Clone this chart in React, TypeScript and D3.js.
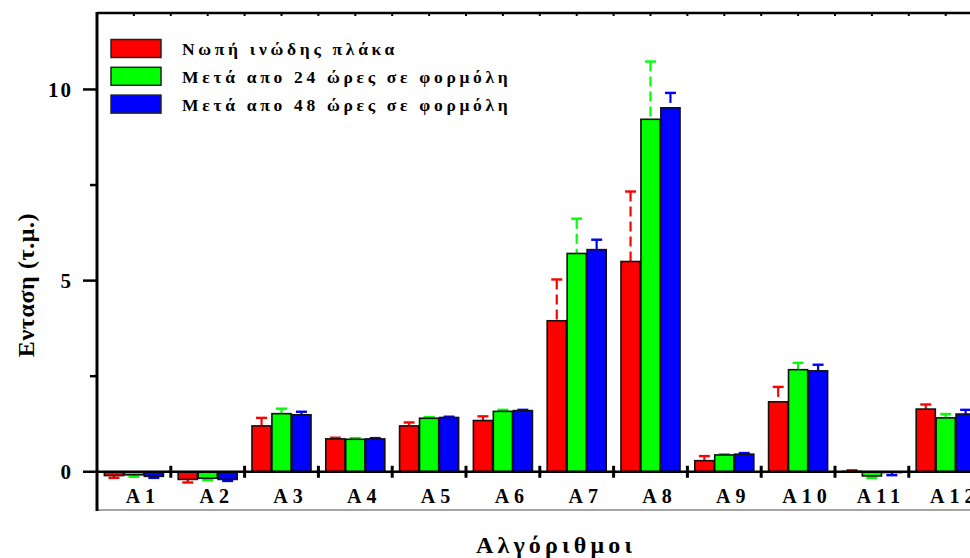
import React from "react";
import * as d3 from "d3";

const categories = ["A1", "A2", "A3", "A4", "A5", "A6", "A7", "A8", "A9", "A10", "A11", "A12"];
const seriesNames = [
  "Νωπή ινώδης πλάκα",
  "Μετά απο 24 ώρες σε φορμόλη",
  "Μετά απο 48 ώρες σε φορμόλη",
];
const seriesColors = ["#ff0000", "#00ff00", "#0000ff"];

// values
const fresh = [-0.1, -0.2, 1.2, 0.86, 1.2, 1.34, 3.95, 5.5, 0.29, 1.83, 0.01, 1.64];
const freshErr = [0.06, 0.08, 0.21, 0.03, 0.09, 0.11, 1.08, 1.83, 0.12, 0.39, 0.03, 0.12];
const after24 = [-0.08, -0.17, 1.52, 0.85, 1.4, 1.58, 5.71, 9.22, 0.44, 2.67, -0.11, 1.41];
const after24Err = [0.05, 0.05, 0.13, 0.03, 0.03, 0.04, 0.91, 1.51, 0.02, 0.18, 0.05, 0.1];
const after48 = [-0.12, -0.2, 1.49, 0.86, 1.42, 1.6, 5.81, 9.52, 0.46, 2.64, -0.02, 1.51];
const after48Err = [0.04, 0.04, 0.08, 0.02, 0.02, 0.02, 0.26, 0.39, 0.03, 0.16, 0.07, 0.11];

const yMajorTicks = [0, 5, 10];
const yMinorTicks = [2.5, 7.5];

const values = [fresh, after24, after48];
const errors = [freshErr, after24Err, after48Err];

const W = 970;
const H = 558;
const left = 97;
const top = 13;
const bottom = 510;
const right = left + 12 * 73.8;

const font = "'Liberation Serif', 'Times New Roman', serif";

export default function App() {
  const x = d3.scaleBand().domain(categories).range([left, right]).padding(0);
  const inner = d3
    .scaleBand()
    .domain(seriesNames)
    .range([x.bandwidth() * 0.1, x.bandwidth() * 0.9])
    .paddingInner(0.04);
  const y = d3.scaleLinear().domain([-1, 12]).range([bottom, top]);
  const y0 = y(0);

  const boundaries = d3.range(1, categories.length + 1).map((i) => left + i * x.step());
  const topTicks = d3.range(1, categories.length * 2 + 1).map((i) => left + (i * x.step()) / 2);

  return (
    <svg
      width={W}
      height={H}
      style={{ position: "absolute", left: 0, top: 0, background: "#fff" }}
      fontFamily={font}
    >
      {/* bars */}
      {categories.map((c, ci) => (
        <g key={c} transform={`translate(${x(c)},0)`}>
          {seriesNames.map((s, si) => {
            const v = values[si][ci];
            const e = errors[si][ci];
            const bx = inner(s)!;
            const bw = inner.bandwidth();
            const cx = bx + bw / 2;
            const yTop = Math.min(y(v), y0);
            const h = Math.abs(y(v) - y0);
            const capY = y(v + (v < 0 ? -e : e));
            return (
              <g key={s}>
                <line
                  x1={cx}
                  x2={cx}
                  y1={capY}
                  y2={y(v)}
                  stroke={seriesColors[si]}
                  strokeWidth={2.2}
                  strokeDasharray="10,5"
                />
                <line
                  x1={cx - 5.5}
                  x2={cx + 5.5}
                  y1={capY}
                  y2={capY}
                  stroke={seriesColors[si]}
                  strokeWidth={2.4}
                />
                <rect
                  x={bx}
                  y={yTop}
                  width={bw}
                  height={h}
                  fill={seriesColors[si]}
                  stroke="#111"
                  strokeWidth={1.6}
                />
              </g>
            );
          })}
        </g>
      ))}

      {/* zero line with group ticks */}
      <line x1={left} x2={right} y1={y0} y2={y0} stroke="#000" strokeWidth={2.5} />
      {boundaries.map((bx, i) => (
        <line key={i} x1={bx} x2={bx} y1={y0 - 6} y2={y0 + 6} stroke="#000" strokeWidth={3} />
      ))}

      {/* frame */}
      <line x1={left} x2={right} y1={top} y2={top} stroke="#000" strokeWidth={2.5} />
      {topTicks.map((tx, i) => (
        <line key={i} x1={tx} x2={tx} y1={top} y2={top + 3} stroke="#000" strokeWidth={2} />
      ))}
      <line x1={left} x2={right} y1={bottom} y2={bottom} stroke="#888" strokeWidth={1.5} />
      <line x1={left} x2={left} y1={top - 1} y2={bottom + 1} stroke="#000" strokeWidth={3} />

      {/* y axis */}
      {yMajorTicks.map((t) => (
        <g key={t}>
          <line x1={left - 14} x2={left} y1={y(t)} y2={y(t)} stroke="#000" strokeWidth={2.5} />
          <text
            x={left - 24}
            y={y(t)}
            dy="0.36em"
            textAnchor="end"
            fontSize={21}
            fontWeight="bold"
            letterSpacing={2}
          >
            {t}
          </text>
        </g>
      ))}
      {yMinorTicks.map((t) => (
        <line key={t} x1={left - 7} x2={left} y1={y(t)} y2={y(t)} stroke="#000" strokeWidth={2.5} />
      ))}

      {/* category labels (last one runs off the edge, as in the source) */}
      {categories.map((c) => (
        <text
          key={c}
          x={x(c)! + x.bandwidth() / 2 + 9}
          y={503}
          textAnchor="middle"
          fontSize={20}
          fontWeight="bold"
          letterSpacing={5}
        >
          {c}
        </text>
      ))}

      {/* axis titles */}
      <text
        x={556}
        y={553}
        textAnchor="middle"
        fontSize={24}
        fontWeight="bold"
        letterSpacing={4.2}
      >
        Αλγόριθμοι
      </text>
      <text
        transform="translate(34,285) rotate(-90)"
        textAnchor="middle"
        fontSize={24}
        fontWeight="bold"
        letterSpacing={0.6}
      >
        Ενταση (τ.μ.)
      </text>

      {/* legend */}
      {seriesNames.map((s, i) => (
        <g key={s} transform={`translate(111,${39.5 + i * 27.8})`}>
          <rect width={50} height={18} fill={seriesColors[i]} stroke="#222" strokeWidth={1.5} />
          <text x={71} y={15.5} fontSize={17.5} fontWeight="bold" letterSpacing={3.7}>
            {s}
          </text>
        </g>
      ))}
    </svg>
  );
}
